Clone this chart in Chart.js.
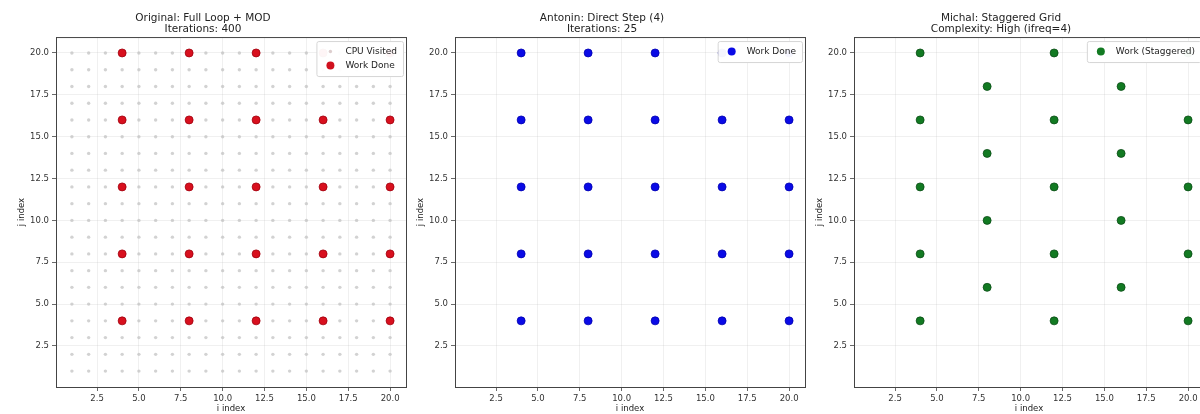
<!DOCTYPE html>
<html>
<head>
<meta charset="utf-8">
<script src="https://cdn.jsdelivr.net/npm/chart.js@4/dist/chart.umd.min.js"></script>
<style>
  html, body { margin: 0; padding: 0; background: #fff; overflow: hidden; }
  body { width: 1200px; height: 414px; position: relative; }
  .panel { position: absolute; top: 0; }
</style>
</head>
<body>
<div class="panel" style="left:0px"><canvas id="c1" width="411" height="414"></canvas></div>
<div class="panel" style="left:399px"><canvas id="c2" width="411" height="414"></canvas></div>
<div class="panel" style="left:798px"><canvas id="c3" width="411" height="414"></canvas></div>
<script>
// every loop index the CPU walks through (i and j both)
const gridIdx = [1, 2, 3, 4, 5, 6, 7, 8, 9, 10, 11, 12, 13, 14, 15, 16, 17, 18, 19, 20];
// indices where work is actually done (step 4)
const workIdx = [4, 8, 12, 16, 20];
// staggered work points
const staggeredI = [4, 12, 20, 8, 16, 4, 12, 20, 8, 16, 4, 12, 20, 8, 16, 4, 12, 20, 8, 16, 4, 12, 20];
const staggeredJ = [4, 4, 4, 6, 6, 8, 8, 8, 10, 10, 12, 12, 12, 14, 14, 16, 16, 16, 18, 18, 20, 20, 20];

const tickValues = [2.5, 5, 7.5, 10, 12.5, 15, 17.5, 20];
const axisMin = 0.05;
const axisMax = 20.95;

const titles = [
  ["Original: Full Loop + MOD", "Iterations: 400"],
  ["Antonin: Direct Step (4)", "Iterations: 25"],
  ["Michal: Staggered Grid", "Complexity: High (ifreq=4)"],
];

const FONT = "'DejaVu Sans', sans-serif";

function cross(xs, ys) {
  const pts = [];
  ys.forEach((j) => xs.forEach((i) => pts.push({ x: i, y: j })));
  return pts;
}

const visitedPoints = cross(gridIdx, gridIdx);
const workPoints = cross(workIdx, workIdx);
const staggeredPoints = staggeredI.map((i, k) => ({ x: i, y: staggeredJ[k] }));

function axis(titleText, isX) {
  return {
    type: "linear",
    min: axisMin,
    max: axisMax,
    afterBuildTicks: (s) => { s.ticks = tickValues.map((v) => ({ value: v })); },
    afterFit: (s) => {
      if (isX) s.height = 27; else s.width = 56;
    },
    ticks: {
      color: "#333",
      font: { family: FONT, size: 8.5 },
      padding: 3,
      callback: (v) => Number(v).toFixed(1),
    },
    grid: {
      color: "rgba(170,170,170,0.22)",
      lineWidth: 0.8,
      tickColor: "#444",
      tickLength: 4,
    },
    border: { display: true, color: "#444", width: 1 },
    title: {
      display: true,
      text: titleText,
      color: "#222",
      font: { family: FONT, size: 8.5 },
      padding: isX ? { top: 0, bottom: 0 } : { top: 17, bottom: 0 },
    },
  };
}

// top/right spines plus a matplotlib-style legend drawn inside the axes
const framePlugin = {
  id: "frame",
  afterDraw(chart) {
    const { ctx, chartArea: a } = chart;
    ctx.save();
    ctx.strokeStyle = "#444";
    ctx.lineWidth = 1;
    ctx.strokeRect(a.left + 0.5, a.top + 0.5, a.right - a.left, a.bottom - a.top);

    const entries = chart.options.plugins.frame.entries;
    ctx.font = "9px " + FONT;
    const rowH = 14;
    const textW = Math.max(...entries.map((e) => ctx.measureText(e.label).width));
    const w = 29 + textW + 6;
    const h = entries.length * rowH + 7;
    const x = a.right - w - 3;
    const y = a.top + 4;
    ctx.fillStyle = "rgba(255,255,255,0.96)";
    ctx.strokeStyle = "#d6d6d6";
    ctx.beginPath();
    ctx.roundRect(x + 0.5, y + 0.5, w, h, 2);
    ctx.fill();
    ctx.stroke();
    entries.forEach((e, k) => {
      const cy = y + 3.5 + rowH * k + rowH / 2;
      ctx.fillStyle = e.color;
      ctx.beginPath();
      ctx.arc(x + 14, cy, e.r, 0, Math.PI * 2);
      ctx.fill();
      ctx.fillStyle = "#222";
      ctx.textBaseline = "middle";
      ctx.fillText(e.label, x + 29, cy);
    });
    ctx.restore();
  },
};

function makeChart(id, title, datasets, entries) {
  return new Chart(document.getElementById(id), {
    type: "scatter",
    data: { datasets },
    options: {
      responsive: false,
      animation: false,
      devicePixelRatio: 1,
      layout: { padding: { left: 0, right: 5, top: 0, bottom: 0 }, autoPadding: false },
      scales: {
        x: axis("i index", true),
        y: axis("j index", false),
      },
      plugins: {
        legend: { display: false },
        tooltip: { enabled: false },
        title: {
          display: true,
          text: title,
          color: "#222",
          font: { family: FONT, size: 10.5, weight: "normal", lineHeight: 1.05 },
          padding: { top: 13, bottom: 2 },
        },
        frame: { entries },
      },
    },
    plugins: [framePlugin],
  });
}

makeChart("c1", titles[0], [
  { label: "Work Done", data: workPoints, backgroundColor: "#d8101e", borderColor: "#a0000e", borderWidth: 0.8, pointRadius: 4 },
  { label: "CPU Visited", data: visitedPoints, backgroundColor: "rgba(195,195,195,0.75)", borderWidth: 0, pointRadius: 1.7 },
], [
  { label: "CPU Visited", color: "rgba(210,190,190,0.75)", r: 1.7 },
  { label: "Work Done", color: "#d0101e", r: 4 },
]);

makeChart("c2", titles[1], [
  { label: "Work Done", data: workPoints, backgroundColor: "#0a0ae6", borderColor: "#0000b0", borderWidth: 0.8, pointRadius: 4 },
], [
  { label: "Work Done", color: "#0a0ae6", r: 4 },
]);

makeChart("c3", titles[2], [
  { label: "Work (Staggered)", data: staggeredPoints, backgroundColor: "#127a22", borderColor: "#0b4d16", borderWidth: 0.8, pointRadius: 4 },
], [
  { label: "Work (Staggered)", color: "#127a22", r: 4 },
]);
</script>
</body>
</html>
